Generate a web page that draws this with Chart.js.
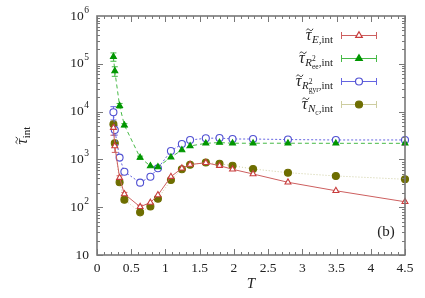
<!DOCTYPE html>
<html>
<head>
<meta charset="utf-8">
<script src="https://cdn.jsdelivr.net/npm/chart.js@4.4.1/dist/chart.umd.min.js"></script>
<style>
  html, body { margin: 0; padding: 0; background: #fff; }
  #wrap { width: 425px; height: 298px; }
</style>
</head>
<body>
<div id="wrap"><canvas id="c" width="425" height="298"></canvas></div>
<script>
// --- data ---
const temps = [0.24, 0.26, 0.33, 0.40, 0.63, 0.78, 0.89, 1.08, 1.24, 1.36, 1.59, 1.79, 1.98, 2.28, 2.79, 3.49, 4.5];

const tauE    = [4600, 1900, 414, 189, 102, 125, 180, 435, 652, 780, 850, 740, 621, 495, 332, 221, 130];
const tauRee  = [141000, 70700, 13300, 5200, 1090, 728, 693, 1110, 1570, 1910, 2170, 2250, 2180, 2180, 2180, 2170, 2170];
const tauRgyr = [9670, 4120, 1090, 553, 326, 435, 652, 1500, 2100, 2550, 2760, 2800, 2670, 2670, 2600, 2550, 2550];
const tauNc   = [5420, 2170, 332, 144, 78, 104, 151, 371, 621, 775, 860, 810, 738, 630, 527, 450, 384];

// error bars (only the low-T ones are visible)
const errE    = [1400, 500, 40, 15, 8, 8, 10, 20, 25, 30, 30, 30, 25, 20, 15, 10, 8];
const errRee  = [28000, 16000, 1500, 400, 80, 50, 50, 60, 70, 80, 90, 90, 80, 80, 80, 80, 80];
const errRgyr = [3000, 900, 120, 40, 20, 20, 30, 60, 80, 90, 90, 90, 90, 90, 90, 90, 90];
const errNc   = [900, 350, 30, 12, 6, 6, 8, 15, 20, 25, 25, 25, 20, 20, 15, 12, 10];

const xTicks = [0, 0.5, 1, 1.5, 2, 2.5, 3, 3.5, 4, 4.5];
const xTickLabels = ['0', '0.5', '1', '1.5', '2', '2.5', '3', '3.5', '4', '4.5'];
const yTicks = [10, 100, 1e3, 1e4, 1e5, 1e6];
const yTickExp = ['', '2', '3', '4', '5', '6'];

const SERIF = '"Liberation Serif", "DejaVu Serif", serif';

function pts(vals) {
    return temps.map((t, i) => ({ x: t, y: vals[i] }));
}

const series = [
    { label: 'E', vals: tauE, err: errE, line: 'rgb(205,95,95)', mark: 'rgb(200,60,60)', dash: [], style: 'triangle', fill: '#fff', r: 3.4, sub: [{t: 'E', it: true}, {t: ',int'}] },
    { label: 'Ree', vals: tauRee, err: errRee, line: 'rgb(70,185,70)', mark: 'rgb(0,150,0)', dash: [4, 3], style: 'triangle', fill: 'rgb(0,150,0)', r: 3.4,
      sub: [{t: 'R', it: true}, {t: '2', sup: true, noadv: true}, {t: 'ee', sub2: true}, {t: ',int'}] },
    { label: 'Rgyr', vals: tauRgyr, err: errRgyr, line: 'rgb(100,100,225)', mark: 'rgb(80,80,210)', dash: [2, 2], style: 'circle', fill: '#fff', r: 3.5,
      sub: [{t: 'R', it: true}, {t: '2', sup: true, noadv: true}, {t: 'gyr', sub2: true}, {t: ',int'}] },
    { label: 'Nc', vals: tauNc, err: errNc, line: 'rgb(205,205,160)', mark: 'rgb(110,110,0)', dash: [1, 2], style: 'circle', fill: 'rgb(110,110,0)', r: 3.5,
      sub: [{t: 'N', it: true}, {t: 'c', sub2: true}, {t: ',int'}] }
];

// draws tilde-tau with a subscript list, returns width (if draw false just measures)
function drawSymbol(ctx, x, y, parts, draw) {
    let cx = x;
    ctx.textBaseline = 'alphabetic';
    ctx.textAlign = 'left';
    ctx.font = 'italic 16px ' + SERIF;
    const tw = ctx.measureText('τ').width;
    if (draw) {
        ctx.fillText('τ', cx, y);
        // tilde accent
        const tx = cx + tw / 2 - 2.2, ty = y - 10.5;
        ctx.save();
        ctx.strokeStyle = ctx.fillStyle;
        ctx.lineWidth = 0.9;
        ctx.beginPath();
        ctx.moveTo(tx, ty + 0.8);
        ctx.bezierCurveTo(tx + 1.5, ty - 1.8, tx + 3, ty + 0.2, tx + 3.6, ty + 0.6);
        ctx.bezierCurveTo(tx + 4.4, ty + 1.4, tx + 5.8, ty + 1.4, tx + 6.6, ty - 0.8);
        ctx.stroke();
        ctx.restore();
    }
    cx += tw + 0.5;
    parts.forEach(p => {
        let size = 11, dy = 3;
        if (p.sup) { size = 7.5; dy = -2; }
        if (p.sub2) { size = 7.5; dy = 6; }
        ctx.font = (p.it ? 'italic ' : '') + size + 'px ' + SERIF;
        const w = ctx.measureText(p.t).width;
        if (draw) ctx.fillText(p.t, cx, y + dy);
        if (!p.noadv) cx += w;
    });
    return cx - x;
}

const decor = {
    id: 'decor',
    beforeDatasetsDraw(chart) {
        const { ctx, scales } = chart;
        const xs = scales.x, ys = scales.y;
        ctx.save();
        // error bars
        series.forEach(s => {
            ctx.strokeStyle = s.line;
            ctx.lineWidth = 1;
            s.vals.forEach((v, i) => {
                const px = xs.getPixelForValue(temps[i]);
                const top = ys.getPixelForValue(v + s.err[i]);
                const bot = ys.getPixelForValue(Math.max(v - s.err[i], 11));
                if (bot - top < 3) return;
                ctx.beginPath();
                ctx.moveTo(px, top); ctx.lineTo(px, bot);
                ctx.moveTo(px - 3, top); ctx.lineTo(px + 3, top);
                ctx.moveTo(px - 3, bot); ctx.lineTo(px + 3, bot);
                ctx.stroke();
            });
        });
        ctx.restore();
    },
    afterDatasetsDraw(chart) {
        const { ctx, chartArea: a, scales } = chart;
        const xs = scales.x, ys = scales.y;
        ctx.save();
        // frame
        ctx.strokeStyle = 'rgb(120,120,120)';
        ctx.lineWidth = 1.6;
        ctx.strokeRect(a.left, a.top, a.right - a.left, a.bottom - a.top);
        // ticks, inside, mirrored
        ctx.lineWidth = 1;
        ctx.beginPath();
        for (let k = 0; k <= 45; k++) {
            const px = Math.round(xs.getPixelForValue(k / 10)) + 0.5;
            const len = k % 5 === 0 ? 6 : 3;
            ctx.moveTo(px, a.bottom); ctx.lineTo(px, a.bottom - len);
            ctx.moveTo(px, a.top); ctx.lineTo(px, a.top + len);
        }
        for (let d = 1; d <= 5; d++) {
            for (let m = 1; m <= 9; m++) {
                const v = m * Math.pow(10, d);
                const py = Math.round(ys.getPixelForValue(v)) + 0.5;
                const len = m === 1 ? 6 : 3;
                ctx.moveTo(a.left, py); ctx.lineTo(a.left + len, py);
                ctx.moveTo(a.right, py); ctx.lineTo(a.right - len, py);
            }
        }
        ctx.stroke();

        // tick labels
        ctx.fillStyle = '#222';
        ctx.font = '13.5px ' + SERIF;
        ctx.textAlign = 'center';
        ctx.textBaseline = 'middle';
        xTicks.forEach((t, i) => {
            ctx.fillText(xTickLabels[i], xs.getPixelForValue(t), a.bottom + 13);
        });
        yTicks.forEach((v, i) => {
            const py = ys.getPixelForValue(v);
            const right = a.left - 8;
            ctx.textAlign = 'right';
            if (yTickExp[i]) {
                ctx.font = '9.5px ' + SERIF;
                const ew = ctx.measureText(yTickExp[i]).width;
                ctx.fillText(yTickExp[i], right, py - 6);
                ctx.font = '13.5px ' + SERIF;
                ctx.fillText('10', right - ew - 0.5, py);
            } else {
                ctx.font = '13.5px ' + SERIF;
                ctx.fillText('10', right, py);
            }
        });

        // axis titles
        ctx.textAlign = 'center';
        ctx.font = 'italic 15px ' + SERIF;
        ctx.fillText('T', (a.left + a.right) / 2, a.bottom + 29);
        ctx.save();
        ctx.translate(22, (a.top + a.bottom) / 2);
        ctx.rotate(-Math.PI / 2);
        const yw = drawSymbol(ctx, 0, 0, [{t: 'int'}], false);
        ctx.fillStyle = '#222';
        drawSymbol(ctx, -yw / 2, 5, [{t: 'int'}], true);
        ctx.restore();

        // panel tag
        ctx.font = '15px ' + SERIF;
        ctx.textAlign = 'center';
        ctx.textBaseline = 'middle';
        ctx.fillText('(b)', 386, 232);

        // legend
        const rows = [35, 58, 81, 104];
        series.forEach((s, i) => {
            const y = rows[i];
            ctx.fillStyle = '#222';
            const w = drawSymbol(ctx, 0, 0, s.sub, false);
            drawSymbol(ctx, 333 - w, y + 5, s.sub, true);
            ctx.strokeStyle = s.line;
            ctx.lineWidth = 1;
            ctx.beginPath();
            ctx.moveTo(341, y + 0.5); ctx.lineTo(377, y + 0.5);
            ctx.moveTo(341.5, y - 3); ctx.lineTo(341.5, y + 4);
            ctx.moveTo(376.5, y - 3); ctx.lineTo(376.5, y + 4);
            ctx.stroke();
            ctx.strokeStyle = s.mark;
            ctx.fillStyle = s.fill;
            ctx.lineWidth = 1.2;
            ctx.beginPath();
            if (s.style === 'circle') {
                ctx.arc(359, y + 0.5, s.r, 0, Math.PI * 2);
            } else {
                const r = s.r + 0.4;
                ctx.moveTo(359, y + 0.5 - r);
                ctx.lineTo(359 + r * 0.87, y + 0.5 + r * 0.5);
                ctx.lineTo(359 - r * 0.87, y + 0.5 + r * 0.5);
                ctx.closePath();
            }
            ctx.fill();
            ctx.stroke();
        });
        ctx.restore();
    }
};

const datasets = series.map(s => ({
    label: s.label,
    data: pts(s.vals),
    showLine: true,
    borderColor: s.line,
    borderWidth: 1,
    borderDash: s.dash,
    pointStyle: s.style,
    pointRadius: s.r,
    pointBorderWidth: 1.1,
    pointBorderColor: s.mark,
    pointBackgroundColor: s.fill,
    clip: false
}));

new Chart(document.getElementById('c'), {
    type: 'scatter',
    data: { datasets: datasets },
    options: {
        responsive: false,
        animation: false,
        layout: { padding: { top: 16, right: 20, left: 0, bottom: 0 } },
        plugins: { legend: { display: false }, tooltip: { enabled: false } },
        scales: {
            x: {
                type: 'linear', min: 0, max: 4.5,
                ticks: { display: false },
                grid: { display: false },
                border: { display: false },
                afterFit: s => { s.height = 43; }
            },
            y: {
                type: 'logarithmic', min: 10, max: 1e6,
                ticks: { display: false },
                grid: { display: false },
                border: { display: false },
                afterFit: s => { s.width = 97; }
            }
        }
    },
    plugins: [decor]
});
</script>
</body>
</html>
